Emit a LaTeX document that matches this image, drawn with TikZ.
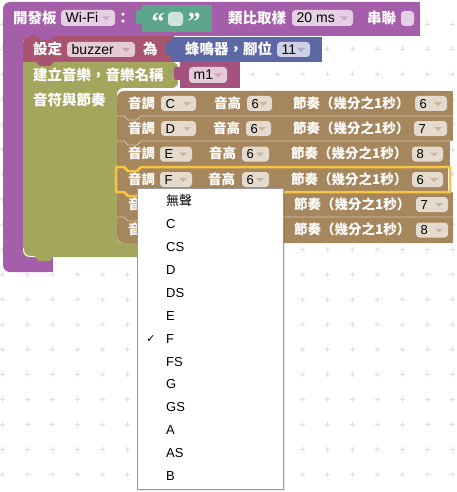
\documentclass[tikz,border=0pt]{standalone}
\usepackage{fontspec}
\setmainfont{Liberation Sans}
\newfontfamily\cjk{Noto Sans CJK TC}
\newfontfamily\symf{DejaVu Sans}
\newfontfamily\qfont{Liberation Serif}
\definecolor{purp}{RGB}{165,94,170}
\definecolor{rose}{RGB}{168,84,112}
\definecolor{bluek}{RGB}{92,104,166}
\definecolor{olive}{RGB}{165,166,94}
\definecolor{pinkb}{RGB}{166,82,128}
\definecolor{tealb}{RGB}{92,165,140}
\definecolor{brownb}{RGB}{166,134,92}
\definecolor{hilite}{RGB}{246,198,66}
\tikzset{
  lbl/.style={anchor=base west, inner sep=0pt, text=white, font=\cjk\bfseries\fontsize{14.5}{16}\selectfont},
  rlbl/.style={anchor=base west, inner sep=0pt, text=white, font=\cjk\bfseries\fontsize{13.5}{15}\selectfont},
  ftxt/.style={anchor=base west, inner sep=0pt, text=black, font=\fontsize{14}{16}\selectfont},
  rftxt/.style={anchor=base west, inner sep=0pt, text=black, font=\fontsize{13}{15}\selectfont},
  fieldbg/.style={fill=white, fill opacity=0.7, rounded corners=3.5pt},
  menuitem/.style={anchor=base west, inner sep=0pt, text=black, font=\fontsize{13}{15}\selectfont},
  gridmark/.style={draw=black!13, line width=0.6pt},
  sephl/.style={draw=white, draw opacity=0.5, line width=0.8pt},
  quote/.style={anchor=base, inner sep=0pt, text=white, font=\qfont\bfseries\fontsize{26}{26}\selectfont},
}
% #1 name, #2 x1, #3 x2, #4 ytop, #5 ybot, #6 text, #7 arrow colour, #8 text style
\newcommand{\fieldbox}[8]{%
  \fill[fieldbg] (#2,#4) rectangle (#3,#5);
  \node[#8] (#1) at ({#2+4.5},{(#4+#5)/2+4.8}) {#6};
  \fill[#7] ({#3-13},{(#4+#5)/2-1.5}) -- ({#3-5},{(#4+#5)/2-1.5}) -- ({#3-9},{(#4+#5)/2+2.5}) -- cycle;
}
\begin{document}
\begin{tikzpicture}[x=1pt,y=-1pt]
\useasboundingbox (0,0) rectangle (457,492);
\fill[white] (0,0) rectangle (457,492);
% grid marks
\foreach \i in {0,...,18}{\foreach \j in {0,...,18}{
  \draw[gridmark] ({2+25*\i-2.5},{24+25*\j}) -- ({2+25*\i+2.5},{24+25*\j})
                  ({2+25*\i},{24+25*\j-2.5}) -- ({2+25*\i},{24+25*\j+2.5});
}}
% ---- purple board block
\fill[purp, rounded corners=7pt] (3,120) -- (3,2) -- (420,2) -- (420,36) -- (23,36) -- (23,257) -- (53,257) -- (53,272) -- (3,272) -- cycle;
\fill[purp] (400,2) rectangle (420,36);
\fill[purp] (40,257) rectangle (53,272);
% ---- rose set block
\fill[rose, rounded corners=7pt] (23,50) -- (23,36) -- (174,36) -- (174,62) -- (23,62) -- cycle;
\fill[rose] (150,36) rectangle (174,62);
\fill[rose] (23,50) rectangle (40,62);
\fill[purp] (36,36) -- (40,40) -- (50,40) -- (54,36) -- cycle;
% ---- olive music block
\fill[olive, rounded corners=6pt] (23,150) -- (23,62) -- (178,62) -- (178,88) -- (117,88) -- (117,243) -- (178,243) -- (178,257) -- (23,257) -- cycle;
\fill[olive] (23,62) rectangle (40,75);
\fill[olive] (35,257) -- (39,261) -- (49,261) -- (53,257) -- cycle;
\fill[rose] (36,62) -- (40,66) -- (50,66) -- (54,62) -- cycle;
\draw[white, line width=0.9pt] (23.5,248) .. controls (23.5,255) and (26,256.5) .. (32,256.5) -- (35,256.5);
% ---- blue buzzer block
\fill[bluek] (172,37) rectangle (322,62);
\fill[bluek, rounded corners=2pt] (166,42) rectangle (174,55);
% ---- pink m1 block
\fill[pinkb] (180,62) rectangle (240,88);
\fill[pinkb, rounded corners=2pt] (174,67) rectangle (182,80);
% ---- teal text block
\fill[tealb] (142,5) rectangle (212,32);
\fill[tealb, rounded corners=2pt] (136,10) rectangle (144,24);
% ---- brown note blocks
\fill[brownb, rounded corners=7pt] (117,91) rectangle (453,125);
\fill[brownb] (430,91) rectangle (453,116);
\fill[brownb] (117,116) rectangle (453,141);
\fill[brownb] (117,141) rectangle (450,167);
\fill[brownb] (117,167) rectangle (448,192);
\fill[brownb] (117,192) rectangle (453,217);
\fill[brownb, rounded corners=7pt] (117,205) rectangle (453,243);
\fill[brownb] (430,217) rectangle (453,243);
\fill[brownb] (117,205) rectangle (453,225);
\foreach \t/\r in {116/453,141/453,192/453,217/453}{
  \draw[sephl] (117,\t) -- (124,\t) -- (128,\t+4) -- (137,\t+4) -- (141,\t) -- (\r,\t);
}
\draw[hilite, line width=2.5pt, line join=round] (116,167) -- (124,167) -- (128,171) -- (137,171) -- (141,167) -- (450,167) -- (450,192) -- (141,192) -- (137,196) -- (128,196) -- (124,192) -- (116,192) -- cycle;
% ---- top row texts
\node[lbl] (board) at (13,23.3) {開發板};
\fieldbox{wifi}{61}{115}{10}{26}{Wi-Fi}{purp!55!white}{ftxt}
\node[lbl, anchor=base] (colon) at (123,23.3) {：};
\node[quote] (lq) at (158,30.8) {“};
\fill[fieldbg] (168,12) rectangle (183,26);
\node[quote] (rq) at (194,30.8) {”};
\node[lbl] (analog) at (228,23.3) {類比取樣};
\fieldbox{ms}{292}{353}{10}{26}{20 ms}{purp!55!white}{ftxt}
\node[lbl] (serial) at (367,23.3) {串聯};
\fill[fieldbg] (401,11) rectangle (414,26);
% ---- set row
\node[lbl] (setl) at (33,54.8) {設定};
\fieldbox{buzz}{67}{135}{42}{57}{buzzer}{rose!55!white}{ftxt}
\node[lbl] (wei) at (143,54.8) {為};
\node[lbl] (buzzer) at (185,54.8) {蜂鳴器，腳位};
\fieldbox{pin}{277}{310}{42}{57}{11}{bluek!55!white}{ftxt}
% ---- music row
\node[lbl] (mk) at (33,80.3) {建立音樂，音樂名稱};
\fieldbox{mname}{189}{227}{67}{83}{m1}{pinkb!55!white}{ftxt}
\node[lbl] (notes) at (33,105.3) {音符與節奏};
% ---- note rows
% row 1
\node[rlbl] (r1a) at (128,108.3) {音調};
\fieldbox{r1n}{161}{196}{96}{111}{C}{brownb!60!white}{rftxt}
\node[rlbl] (r1b) at (214,108.3) {音高};
\fieldbox{r1o}{247}{272}{96}{111}{6}{brownb!60!white}{rftxt}
\node[rlbl] (r1c) at (293,108.3) {節奏（幾分之1秒）};
\fieldbox{r1d}{415}{447}{96}{111}{6}{brownb!60!white}{rftxt}
% row 2
\node[rlbl] (r2a) at (128,133.3) {音調};
\fieldbox{r2n}{161}{196}{121}{136}{D}{brownb!60!white}{rftxt}
\node[rlbl] (r2b) at (213,133.3) {音高};
\fieldbox{r2o}{246}{271}{121}{136}{6}{brownb!60!white}{rftxt}
\node[rlbl] (r2c) at (293,133.3) {節奏（幾分之1秒）};
\fieldbox{r2d}{414}{447}{121}{136}{7}{brownb!60!white}{rftxt}
% row 3
\node[rlbl] (r3a) at (128,158.8) {音調};
\fieldbox{r3n}{160}{192}{146.5}{161.5}{E}{brownb!60!white}{rftxt}
\node[rlbl] (r3b) at (209,158.8) {音高};
\fieldbox{r3o}{242}{269}{146.5}{161.5}{6}{brownb!60!white}{rftxt}
\node[rlbl] (r3c) at (291,158.8) {節奏（幾分之1秒）};
\fieldbox{r3d}{412}{443}{146.5}{161.5}{8}{brownb!60!white}{rftxt}
% row 4
\node[rlbl] (r4a) at (128,184.3) {音調};
\fieldbox{r4n}{160}{192}{172}{187}{F}{brownb!60!white}{rftxt}
\node[rlbl] (r4b) at (208,184.3) {音高};
\fieldbox{r4o}{242}{269}{172}{187}{6}{brownb!60!white}{rftxt}
\node[rlbl] (r4c) at (291,184.3) {節奏（幾分之1秒）};
\fieldbox{r4d}{412}{443}{172}{187}{6}{brownb!60!white}{rftxt}
% row 5
\node[rlbl] (r5a) at (128,209.3) {音調};
\node[rlbl] (r5c) at (294,209.3) {節奏（幾分之1秒）};
\fieldbox{r5d}{416}{448}{197}{212}{7}{brownb!60!white}{rftxt}
% row 6
\node[rlbl] (r6a) at (128,234.8) {音調};
\node[rlbl] (r6c) at (294,234.8) {節奏（幾分之1秒）};
\fieldbox{r6d}{416}{448}{222.5}{237.5}{8}{brownb!60!white}{rftxt}
% ---- dropdown menu
\fill[black, opacity=0.08] (138.5,189.5) rectangle (285,491);
\draw[fill=white, draw=black!40, line width=0.7pt] (137,188) rectangle (283,489);
\node[menuitem, font=\cjk\fontsize{13}{15}\selectfont] (m0) at (166,205.7) {無聲};
\foreach \lab [count=\k from 1] in {C,CS,D,DS,E,F,FS,G,GS,A,AS,B}{
  \node[menuitem] (m\k) at (166,{201+22.9*\k+4.7}) {\lab};
}
\node[anchor=base, inner sep=0pt, text=black, font=\symf\fontsize{11}{12}\selectfont] (check) at (151,342.5) {✓};
\end{tikzpicture}
\end{document}
